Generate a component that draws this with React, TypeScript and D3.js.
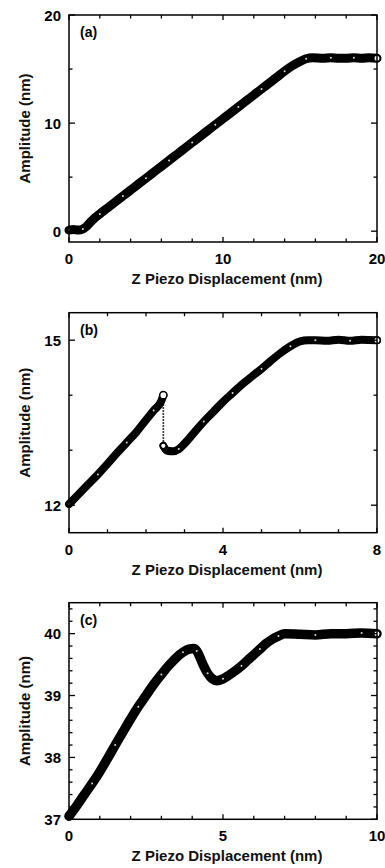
import * as React from 'react';
import * as d3 from 'd3';

// panel (a)
const aX = [0, 0.3, 0.6, 0.9, 1.1, 1.5, 2, 2.5, 3, 3.5, 4, 4.5, 5, 5.5, 6, 6.5, 7, 7.5, 8, 8.5, 9, 9.5, 10, 10.5, 11, 11.5, 12, 12.5, 13, 13.5, 14, 14.5, 15, 15.4, 15.8, 16.5, 17, 17.5, 18, 18.5, 19, 19.5, 20];
const aY = [0.1, 0.15, 0.1, 0.2, 0.4, 1.0, 1.6, 2.15, 2.7, 3.25, 3.8, 4.35, 4.9, 5.45, 6.0, 6.55, 7.1, 7.65, 8.2, 8.75, 9.3, 9.85, 10.4, 10.95, 11.5, 12.05, 12.6, 13.15, 13.7, 14.25, 14.8, 15.3, 15.7, 15.95, 16.05, 16.0, 16.05, 16.0, 16.0, 16.05, 16.0, 16.05, 16.0];
const aXTicks = [0, 2, 4, 6, 8, 10, 12, 14, 16, 18, 20];
const aXLabels = [0, 10, 20];
const aYTicks = [0, 5, 10, 15, 20];
const aYLabels = [0, 10, 20];

// panel (b): before and after the jump
const bLeftX = [0, 0.25, 0.5, 0.75, 1, 1.25, 1.5, 1.75, 2, 2.2, 2.4, 2.45];
const bLeftY = [12.02, 12.2, 12.38, 12.56, 12.75, 12.95, 13.14, 13.33, 13.55, 13.72, 13.9, 14.0];
const bRightX = [2.45, 2.55, 2.7, 2.85, 3, 3.25, 3.5, 3.75, 4, 4.25, 4.5, 4.75, 5, 5.25, 5.5, 5.75, 6, 6.2, 6.4, 6.7, 7, 7.3, 7.6, 8];
const bRightY = [13.08, 12.99, 12.98, 13.02, 13.12, 13.32, 13.52, 13.7, 13.88, 14.04, 14.2, 14.34, 14.48, 14.63, 14.77, 14.89, 14.98, 15.0, 15.0, 14.99, 15.01, 14.99, 15.01, 15.0];
const bXTicks = [0, 1, 2, 3, 4, 5, 6, 7, 8];
const bXLabels = [0, 4, 8];
const bYTicks = [12, 13, 14, 15];
const bYLabels = [12, 15];

// panel (c)
const cX = [0, 0.25, 0.5, 0.75, 1, 1.25, 1.5, 1.75, 2, 2.25, 2.5, 2.75, 3, 3.25, 3.5, 3.7, 3.9, 4.05, 4.15, 4.25, 4.35, 4.5, 4.65, 4.8, 5, 5.2, 5.4, 5.6, 5.8, 6, 6.2, 6.4, 6.6, 6.8, 7, 7.5, 8, 8.5, 9, 9.5, 10];
const cY = [37.05, 37.22, 37.4, 37.58, 37.77, 37.98, 38.2, 38.41, 38.62, 38.82, 39.0, 39.18, 39.34, 39.49, 39.62, 39.7, 39.75, 39.76, 39.72, 39.62, 39.5, 39.36, 39.27, 39.24, 39.27, 39.33, 39.4, 39.48, 39.57, 39.66, 39.75, 39.84, 39.91, 39.96, 40.0, 39.99, 39.98, 40.0, 40.0, 40.01, 40.0];
const cXTicks = [0, 1, 2, 3, 4, 5, 6, 7, 8, 9, 10];
const cXLabels = [0, 5, 10];
const cYTicks = [37, 37.2, 37.4, 37.6, 37.8, 38, 38.2, 38.4, 38.6, 38.8, 39, 39.2, 39.4, 39.6, 39.8, 40, 40.2, 40.4];
const cYLabels = [37, 38, 39, 40];

const FONT = '"Liberation Sans", Arial, sans-serif';
const LEFT = 69;
const RIGHT = 377;

type Seg = { xs: number[]; ys: number[] };

function Panel(props: {
  top: number; bottom: number; tag: string;
  xDomain: [number, number]; yDomain: [number, number];
  segs: Seg[]; xTicks: number[]; xLabels: number[]; yTicks: number[]; yLabels: number[];
  band: number; jump?: boolean;
}) {
  const { top, bottom, tag, xDomain, yDomain, segs, xTicks, xLabels, yTicks, yLabels, band } = props;
  const x = d3.scaleLinear().domain(xDomain).range([LEFT, RIGHT]);
  const y = d3.scaleLinear().domain(yDomain).range([bottom, top]);
  const line = d3.line<[number, number]>()
    .x(d => x(d[0]))
    .y(d => y(d[1]))
    .curve(d3.curveMonotoneX);

  const ticks: React.ReactNode[] = [];
  xTicks.forEach((t, i) => {
    const len = xLabels.includes(t) ? 5 : 3.5;
    const px = x(t);
    ticks.push(<line key={'xb' + i} x1={px} x2={px} y1={bottom} y2={bottom - len} />);
    ticks.push(<line key={'xt' + i} x1={px} x2={px} y1={top} y2={top + len} />);
  });
  yTicks.forEach((t, i) => {
    const len = yLabels.includes(t) ? 6 : 3.5;
    const py = y(t);
    ticks.push(<line key={'yl' + i} x1={LEFT} x2={LEFT + len} y1={py} y2={py} />);
    ticks.push(<line key={'yr' + i} x1={RIGHT} x2={RIGHT - len} y1={py} y2={py} />);
  });

  const last = segs[segs.length - 1];
  const n = last.xs.length - 1;

  return (
    <g>
      {segs.map((s, si) => {
        const pts = s.xs.map((v, i) => [v, s.ys[i]] as [number, number]);
        return (
          <g key={si}>
            <path d={line(pts) || ''} fill="none" stroke="#000" strokeWidth={band}
              strokeLinejoin="round" strokeLinecap="round" />
            {pts.map((p, i) => (
              <circle key={i} cx={x(p[0])} cy={y(p[1])} r={1.0} fill="#fff" opacity={i % 3 === 0 ? 0.85 : 0} />
            ))}
          </g>
        );
      })}
      {props.jump && (
        <g>
          <line x1={x(segs[0].xs[segs[0].xs.length - 1])} x2={x(segs[1].xs[0])}
            y1={y(segs[0].ys[segs[0].ys.length - 1])} y2={y(segs[1].ys[0])}
            stroke="#000" strokeWidth={1.7} strokeDasharray="1.6,1.4" />
          <circle cx={x(segs[0].xs[segs[0].xs.length - 1])} cy={y(segs[0].ys[segs[0].ys.length - 1])}
            r={3.6} fill="#fff" stroke="#000" strokeWidth={1.5} />
          <circle cx={x(segs[1].xs[0])} cy={y(segs[1].ys[0])}
            r={2.8} fill="#fff" stroke="#000" strokeWidth={1.4} />
        </g>
      )}
      <circle cx={x(last.xs[n])} cy={y(last.ys[n])} r={3.2} fill="#fff" stroke="#000" strokeWidth={1.4} />
      <g stroke="#000" strokeWidth={1.3}>{ticks}</g>
      <rect x={LEFT} y={top} width={RIGHT - LEFT} height={bottom - top} fill="none" stroke="#000" strokeWidth={1.5} />
      <text x={LEFT + 11} y={top + 22} fontFamily={FONT} fontWeight="bold" fontSize={14}>{tag}</text>
      {xLabels.map(t => (
        <text key={'xl' + t} x={x(t)} y={bottom + 22} textAnchor="middle"
          fontFamily={FONT} fontWeight="bold" fontSize={15}>{t}</text>
      ))}
      {yLabels.map(t => (
        <text key={'yl' + t} x={61} y={y(t) + 5.5} textAnchor="end"
          fontFamily={FONT} fontWeight="bold" fontSize={15}>{t}</text>
      ))}
      <text x={(LEFT + RIGHT) / 2 + 4} y={bottom + 42} textAnchor="middle"
        fontFamily={FONT} fontWeight="bold" fontSize={15} fill="#111">Z Piezo Displacement (nm)</text>
      <text transform={`translate(30,${(top + bottom) / 2}) rotate(-90)`} textAnchor="middle"
        fontFamily={FONT} fontWeight="bold" fontSize={15} fill="#111">Amplitude (nm)</text>
    </g>
  );
}

export default function App() {
  return (
    <svg width={385} height={868} style={{ position: 'absolute', left: 0, top: 0, background: '#fff' }}>
      <Panel top={15} bottom={242} tag="(a)" xDomain={[0, 20]} yDomain={[-1, 20]}
        segs={[{ xs: aX, ys: aY }]} xTicks={aXTicks} xLabels={aXLabels}
        yTicks={aYTicks} yLabels={aYLabels} band={9} />
      <Panel top={312.7} bottom={532.7} tag="(b)" xDomain={[0, 8]} yDomain={[11.5, 15.5]}
        segs={[{ xs: bLeftX, ys: bLeftY }, { xs: bRightX, ys: bRightY }]} xTicks={bXTicks} xLabels={bXLabels}
        yTicks={bYTicks} yLabels={bYLabels} band={8} jump />
      <Panel top={602.7} bottom={819.3} tag="(c)" xDomain={[0, 10]} yDomain={[37, 40.5]}
        segs={[{ xs: cX, ys: cY }]} xTicks={cXTicks} xLabels={cXLabels}
        yTicks={cYTicks} yLabels={cYLabels} band={9.5} />
    </svg>
  );
}
